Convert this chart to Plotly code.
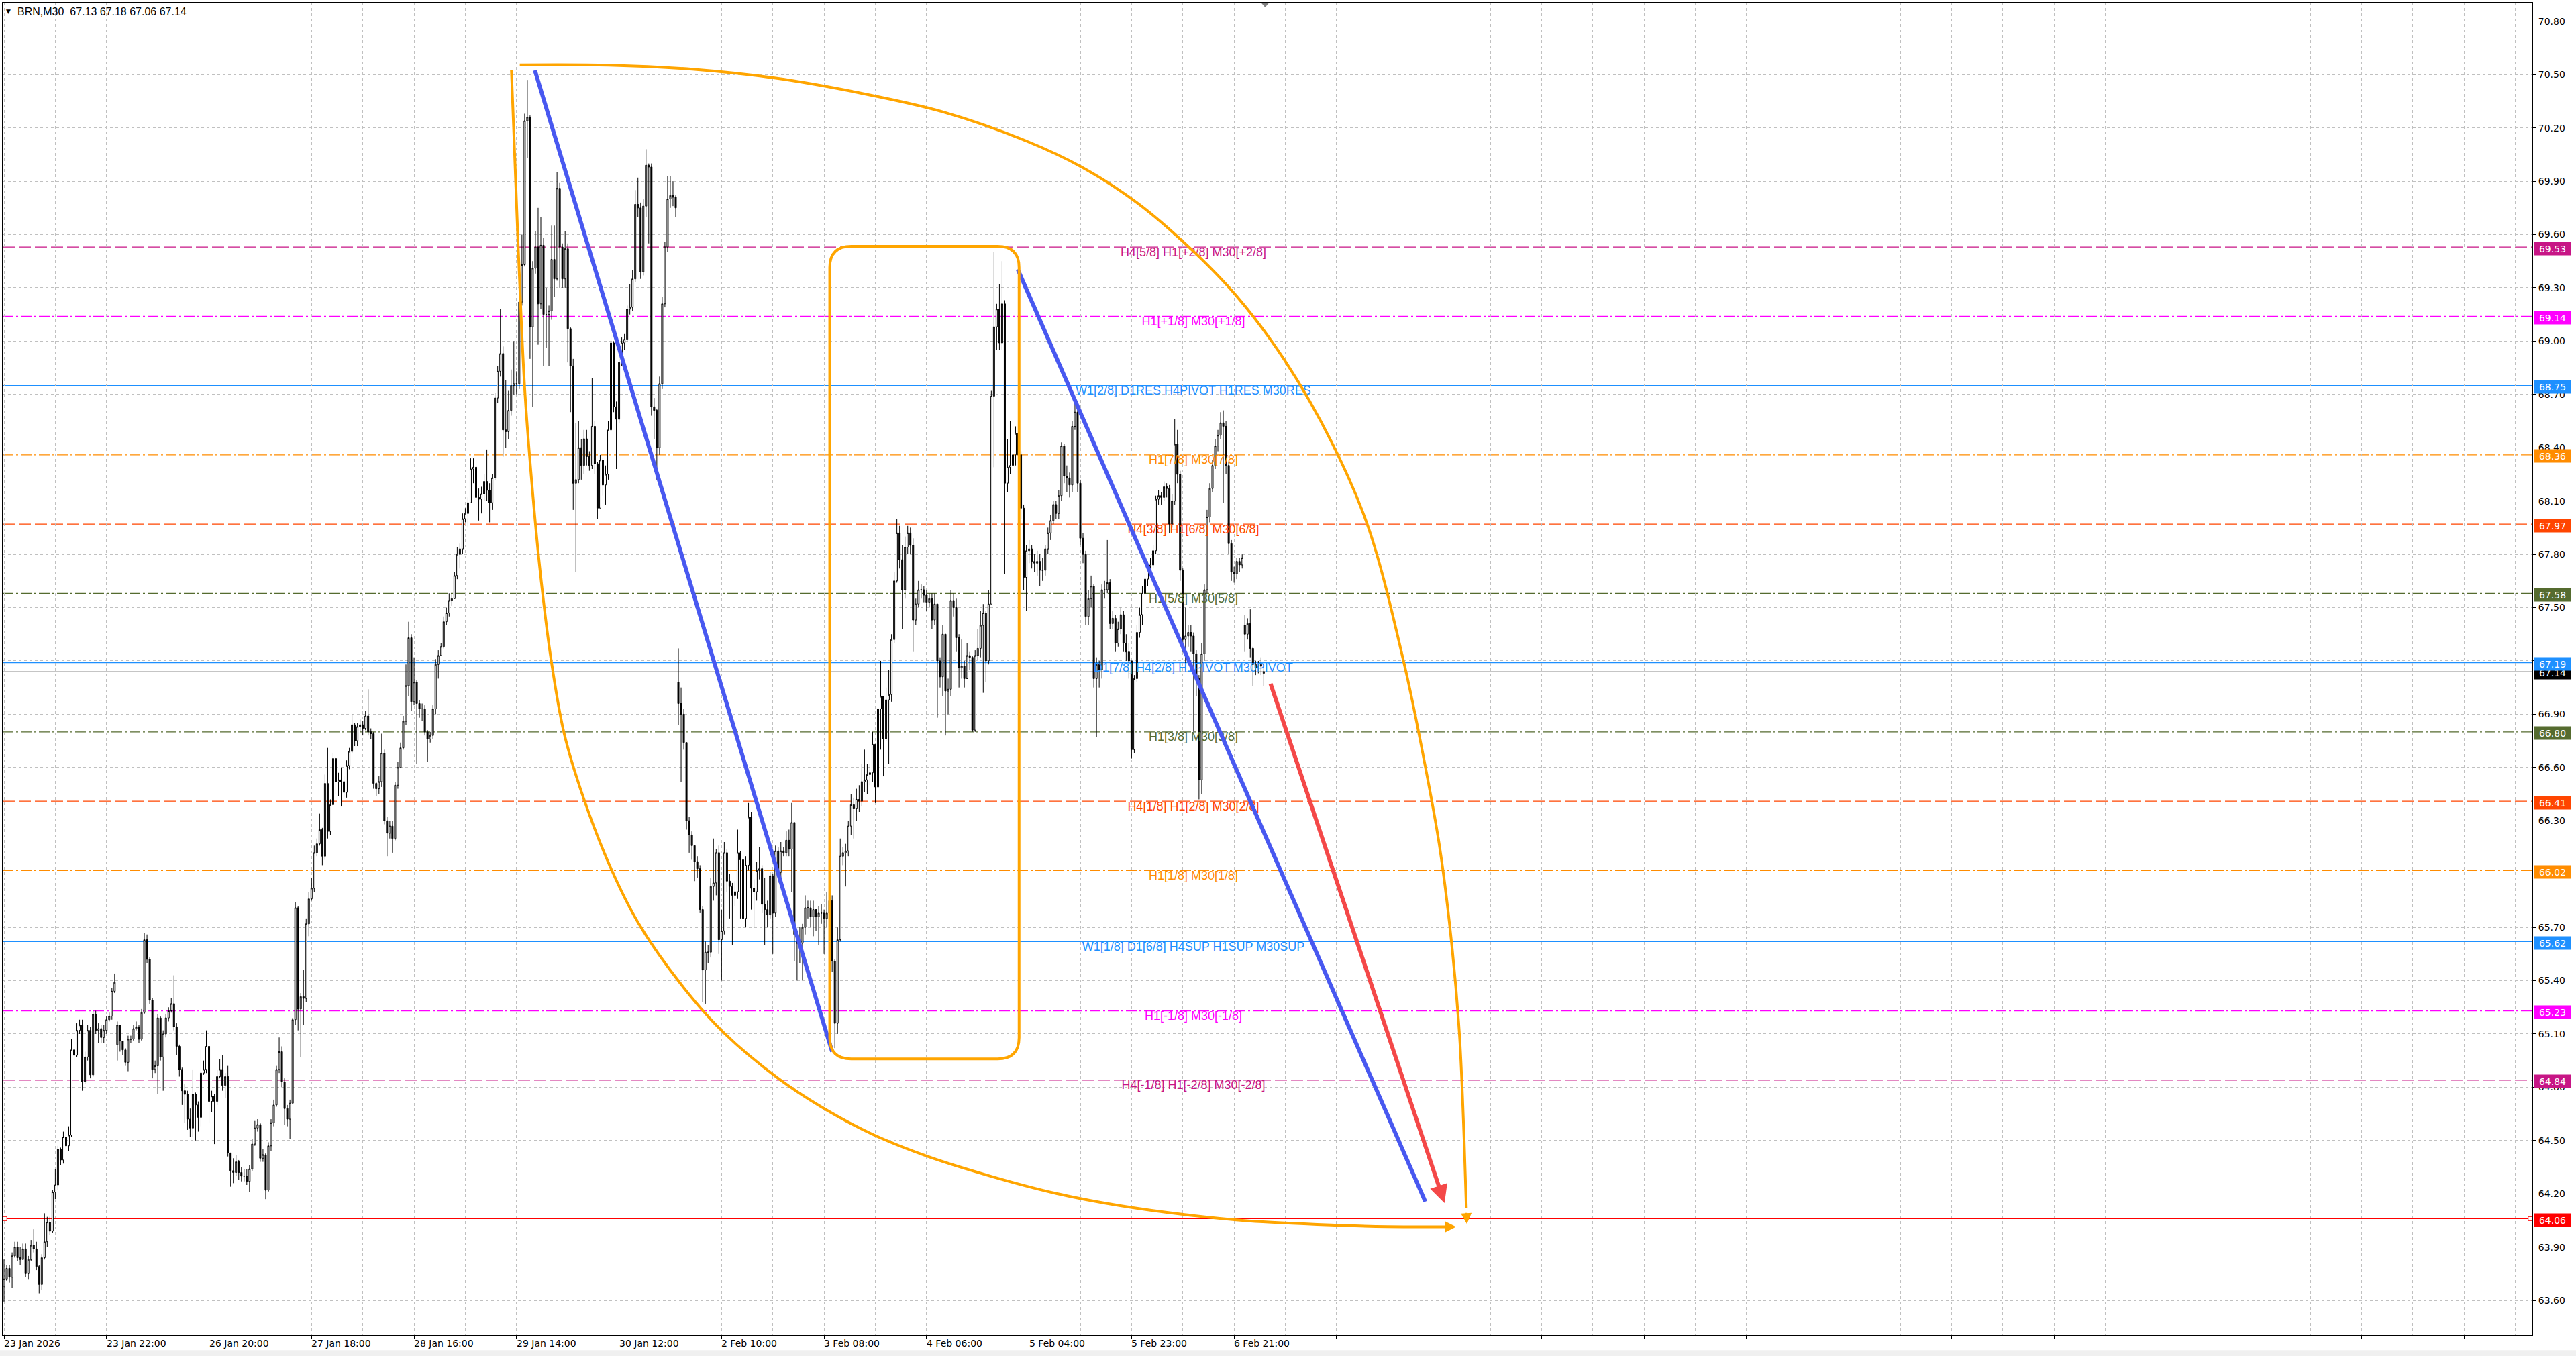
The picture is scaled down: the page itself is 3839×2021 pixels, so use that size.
import plotly.graph_objects as go

# BRN M30 Kerzen, pro Handelstag: Schluss / Hoch / Tief
close_23jan = [63.72, 63.78, 63.73, 63.85, 63.90, 63.84, 63.83, 63.89, 63.75, 63.83, 63.91, 63.89, 63.79, 63.69, 63.84, 63.93, 64.04, 63.99, 64.21, 64.25, 64.45, 64.39, 64.52, 64.47, 64.53, 65.01, 64.98, 65.12, 65.15, 64.83, 64.97, 65.12, 64.87, 65.21, 65.12, 65.13, 65.08, 65.12, 65.18, 65.20, 65.34, 65.39]
high_23jan = [63.83, 63.80, 63.80, 63.87, 63.93, 63.93, 63.90, 63.92, 63.92, 63.85, 63.94, 64.00, 63.93, 63.80, 63.86, 64.09, 64.07, 64.07, 64.22, 64.34, 64.47, 64.46, 64.55, 64.56, 64.58, 65.07, 65.03, 65.16, 65.18, 65.18, 65.00, 65.15, 65.14, 65.23, 65.23, 65.16, 65.15, 65.15, 65.20, 65.22, 65.36, 65.44]
low_23jan = [63.59, 63.71, 63.70, 63.67, 63.84, 63.82, 63.80, 63.86, 63.73, 63.72, 63.82, 63.87, 63.77, 63.64, 63.66, 63.83, 63.90, 63.97, 63.98, 64.17, 64.22, 64.36, 64.37, 64.45, 64.44, 64.52, 64.95, 64.97, 65.10, 64.78, 64.82, 64.95, 64.85, 64.86, 65.10, 65.05, 65.05, 65.05, 65.10, 65.17, 65.18, 65.33]

close_26jan = [65.15, 65.06, 65.01, 64.94, 65.07, 65.07, 65.13, 65.14, 65.07, 65.22, 65.63, 65.52, 65.29, 64.90, 64.92, 65.19, 64.97, 65.10, 65.19, 65.23, 65.27, 65.14, 65.03, 64.90, 64.78, 64.76, 64.62, 64.57, 64.76, 64.70, 64.63, 64.88, 64.90, 65.03, 64.72, 64.75, 64.72, 64.86, 64.90, 64.81, 64.86]
high_26jan = [65.17, 65.14, 65.06, 65.02, 65.09, 65.09, 65.15, 65.17, 65.15, 65.24, 65.67, 65.66, 65.53, 65.30, 64.95, 65.21, 65.20, 65.12, 65.21, 65.25, 65.30, 65.43, 65.16, 65.04, 64.91, 64.82, 64.78, 64.68, 64.90, 64.77, 64.72, 65.01, 64.95, 65.12, 65.06, 64.78, 64.76, 64.90, 64.96, 64.98, 64.88]
low_26jan = [64.95, 65.00, 64.98, 64.92, 64.89, 65.05, 65.06, 65.12, 65.05, 65.06, 65.21, 65.50, 65.27, 64.85, 64.88, 64.76, 64.95, 64.78, 65.08, 65.17, 65.22, 65.12, 64.98, 64.86, 64.70, 64.60, 64.56, 64.52, 64.52, 64.50, 64.55, 64.58, 64.87, 64.88, 64.60, 64.66, 64.48, 64.70, 64.85, 64.78, 64.74]

close_27jan = [64.43, 64.33, 64.32, 64.38, 64.32, 64.30, 64.30, 64.27, 64.34, 64.48, 64.57, 64.59, 64.40, 64.42, 64.22, 64.47, 64.60, 64.70, 64.90, 65.00, 64.83, 64.68, 64.62, 64.71, 65.18, 65.81, 65.24, 65.31, 65.30, 65.72, 65.86, 65.92, 66.12, 66.17, 66.25, 66.10, 66.51, 66.24, 66.39, 66.65, 66.52, 66.53]
high_27jan = [64.92, 64.43, 64.40, 64.42, 64.39, 64.35, 64.34, 64.34, 64.36, 64.51, 64.61, 64.62, 64.60, 64.45, 64.43, 64.49, 64.62, 64.73, 64.92, 65.08, 65.03, 64.85, 64.70, 64.73, 65.19, 65.84, 65.82, 65.33, 65.46, 65.75, 65.90, 65.98, 66.16, 66.20, 66.34, 66.26, 66.56, 66.71, 66.42, 66.68, 66.66, 66.57]
low_27jan = [64.41, 64.24, 64.26, 64.30, 64.28, 64.27, 64.27, 64.25, 64.21, 64.33, 64.47, 64.55, 64.38, 64.38, 64.17, 64.21, 64.44, 64.58, 64.69, 64.88, 64.80, 64.59, 64.58, 64.51, 64.73, 65.15, 65.12, 64.97, 65.15, 65.28, 65.65, 65.85, 65.90, 66.10, 66.16, 66.05, 66.08, 66.20, 66.22, 66.38, 66.45, 66.44]

close_28jan = [66.52, 66.46, 66.61, 66.69, 66.84, 66.75, 66.83, 66.84, 66.82, 66.89, 66.80, 66.79, 66.51, 66.48, 66.52, 66.68, 66.30, 66.23, 66.27, 66.20, 66.50, 66.60, 66.71, 66.86, 67.06, 67.33, 66.97, 67.08, 66.96, 66.93, 66.93, 66.80, 66.76, 66.78, 66.93, 67.18, 67.23, 67.28, 67.42, 67.47, 67.54, 67.55]
high_28jan = [66.60, 66.55, 66.64, 66.71, 66.90, 66.85, 66.85, 66.87, 66.86, 66.92, 67.04, 66.82, 66.80, 66.52, 66.55, 66.79, 66.70, 66.32, 66.30, 66.30, 66.52, 66.63, 66.74, 66.89, 67.18, 67.42, 67.35, 67.22, 67.09, 66.98, 66.96, 66.95, 66.81, 66.80, 66.95, 67.21, 67.26, 67.30, 67.45, 67.50, 67.58, 67.58]
low_28jan = [66.38, 66.43, 66.43, 66.59, 66.68, 66.72, 66.72, 66.80, 66.78, 66.81, 66.78, 66.76, 66.48, 66.44, 66.45, 66.49, 66.28, 66.10, 66.20, 66.12, 66.19, 66.48, 66.60, 66.70, 66.84, 67.00, 66.92, 66.95, 66.62, 66.88, 66.86, 66.78, 66.63, 66.74, 66.76, 66.90, 67.10, 67.24, 67.27, 67.40, 67.45, 67.51]

close_29jan = [67.68, 67.80, 67.83, 68.00, 68.03, 68.09, 68.28, 68.29, 68.12, 68.11, 68.14, 68.21, 68.16, 68.09, 68.23, 68.68, 68.83, 68.93, 68.50, 68.49, 68.61, 68.75, 68.76, 68.76, 69.22, 69.43, 70.24, 70.26, 69.08, 69.41, 69.53, 69.21, 69.54, 69.15, 69.15, 69.17, 69.46, 69.35, 69.86, 69.53, 69.35, 69.52]
high_29jan = [67.70, 67.84, 67.86, 68.03, 68.06, 68.12, 68.34, 68.34, 68.33, 68.17, 68.18, 68.25, 68.39, 68.20, 68.25, 68.71, 68.86, 69.18, 68.97, 68.78, 68.72, 68.84, 69.00, 68.83, 69.25, 69.60, 70.28, 70.47, 70.27, 69.45, 69.62, 69.75, 69.70, 69.58, 69.30, 69.20, 69.65, 69.65, 69.95, 69.89, 69.55, 69.62]
low_29jan = [67.55, 67.66, 67.72, 67.80, 67.98, 67.95, 68.09, 68.20, 68.02, 67.99, 68.03, 68.10, 68.10, 67.98, 68.05, 68.22, 68.65, 68.80, 68.35, 68.40, 68.45, 68.58, 68.70, 68.70, 68.73, 69.20, 69.42, 70.03, 68.90, 68.63, 69.38, 68.98, 69.18, 68.86, 68.96, 68.86, 69.12, 69.25, 69.34, 69.30, 69.30, 69.30]

close_30jan = [69.07, 68.86, 68.20, 68.22, 68.40, 68.30, 68.45, 68.35, 68.30, 68.52, 68.31, 68.06, 68.33, 68.19, 68.25, 68.50, 68.99, 68.63, 68.56, 68.88, 68.99, 69.01, 69.18, 69.19, 69.35, 69.77, 69.75, 69.39, 69.76, 69.99, 69.98, 68.63, 68.61, 68.40, 68.76, 69.21, 69.53, 69.80, 69.82, 69.81, 69.75]
high_30jan = [69.55, 69.08, 68.90, 68.54, 68.55, 68.45, 68.50, 68.50, 68.38, 68.79, 68.55, 68.32, 68.36, 68.34, 68.30, 68.55, 69.18, 69.00, 68.66, 68.91, 69.02, 69.04, 69.20, 69.32, 69.40, 69.85, 69.92, 69.78, 69.80, 70.08, 70.00, 70.00, 68.68, 68.62, 68.80, 69.25, 69.56, 69.93, 69.93, 69.90, 69.82]
low_30jan = [68.88, 68.60, 68.05, 67.70, 68.20, 68.22, 68.25, 68.30, 68.27, 68.28, 68.25, 68.00, 68.06, 68.13, 68.08, 68.22, 68.50, 68.60, 68.28, 68.54, 68.86, 68.95, 69.00, 69.15, 69.17, 69.33, 69.70, 69.35, 69.37, 69.70, 69.55, 68.58, 68.45, 68.22, 68.36, 68.73, 69.19, 69.50, 69.75, 69.76, 69.70]

close_2feb = [66.96, 66.90, 66.74, 66.30, 66.22, 66.16, 66.07, 66.03, 65.80, 65.46, 65.56, 65.56, 65.93, 65.95, 66.12, 65.63, 65.68, 66.12, 65.96, 65.93, 65.88, 65.90, 66.12, 66.08, 65.75, 66.05, 66.32, 65.92, 65.90, 66.02, 66.03, 65.83, 65.80, 65.77, 65.99, 65.78, 66.13, 66.01, 66.13, 66.12, 66.19, 66.14]
high_2feb = [67.27, 67.05, 66.93, 66.74, 66.32, 66.24, 66.16, 66.10, 66.05, 65.82, 65.62, 65.60, 65.98, 66.20, 66.14, 66.16, 65.80, 66.18, 66.14, 66.00, 65.95, 65.96, 66.25, 66.13, 66.15, 66.10, 66.40, 66.35, 65.97, 66.07, 66.15, 66.05, 65.98, 65.85, 66.01, 66.00, 66.16, 66.15, 66.18, 66.15, 66.24, 66.25]
low_2feb = [66.84, 66.52, 66.70, 66.25, 66.12, 66.08, 65.96, 65.98, 65.78, 65.28, 65.27, 65.50, 65.53, 65.85, 65.88, 65.55, 65.40, 65.66, 65.90, 65.75, 65.60, 65.82, 65.86, 65.75, 65.50, 65.70, 66.02, 65.80, 65.70, 65.85, 65.97, 65.78, 65.60, 65.70, 65.75, 65.55, 65.76, 65.95, 65.98, 66.10, 66.10, 66.10]

close_3feb = [66.29, 65.66, 65.61, 65.61, 65.70, 65.81, 65.81, 65.76, 65.80, 65.76, 65.78, 65.78, 65.75, 65.78, 65.85, 65.51, 65.16, 65.63, 66.10, 66.12, 66.13, 66.27, 66.39, 66.37, 66.42, 66.41, 66.52, 66.53, 66.56, 66.57, 66.73, 66.49, 66.93, 67.00, 66.76, 66.98, 67.01, 67.32, 67.65, 67.92, 67.77, 67.60]
high_3feb = [66.40, 66.27, 65.68, 65.70, 65.72, 65.88, 65.85, 65.85, 65.85, 65.80, 65.82, 65.83, 65.80, 65.90, 66.02, 65.88, 65.52, 65.70, 66.20, 66.15, 66.17, 66.30, 66.45, 66.43, 66.48, 66.50, 66.62, 66.70, 66.62, 66.62, 66.80, 66.73, 67.57, 67.20, 67.00, 67.05, 67.15, 67.35, 67.70, 68.00, 67.96, 67.85]
low_3feb = [65.90, 65.51, 65.40, 65.50, 65.40, 65.66, 65.75, 65.70, 65.65, 65.68, 65.60, 65.72, 65.55, 65.70, 65.75, 65.45, 65.02, 65.10, 65.62, 66.05, 65.93, 66.10, 66.22, 66.20, 66.30, 66.35, 66.38, 66.46, 66.45, 66.50, 66.52, 66.40, 66.35, 66.70, 66.55, 66.75, 66.62, 66.97, 67.30, 67.64, 67.72, 67.38]

close_4feb = [67.84, 67.92, 67.85, 67.43, 67.52, 67.60, 67.60, 67.57, 67.53, 67.55, 67.43, 67.52, 67.20, 67.11, 67.35, 67.03, 67.04, 67.54, 67.50, 67.33, 67.16, 67.17, 67.10, 67.23, 67.22, 66.81, 67.23, 67.27, 67.40, 67.47, 67.20, 67.52, 68.69, 69.08, 69.18, 68.99, 69.21, 68.20, 68.29, 68.30, 68.36, 68.48]
high_4feb = [67.90, 67.96, 67.95, 67.89, 67.55, 67.65, 67.63, 67.62, 67.60, 67.58, 67.58, 67.58, 67.52, 67.22, 67.40, 67.35, 67.10, 67.60, 67.58, 67.55, 67.35, 67.32, 67.20, 67.30, 67.25, 67.23, 67.26, 67.38, 67.48, 67.52, 67.48, 67.60, 68.72, 69.50, 69.21, 69.32, 69.45, 69.23, 68.45, 68.55, 68.45, 68.52]
low_4feb = [67.55, 67.80, 67.80, 67.25, 67.40, 67.50, 67.55, 67.53, 67.48, 67.50, 67.38, 67.40, 66.88, 67.05, 67.00, 66.78, 66.90, 67.00, 67.45, 67.25, 67.05, 67.10, 67.05, 67.10, 67.15, 66.80, 66.80, 67.20, 67.22, 67.02, 67.08, 67.18, 67.52, 68.29, 68.95, 68.95, 68.95, 67.69, 68.15, 68.25, 68.20, 68.30]

close_5feb = [68.36, 68.06, 67.67, 67.82, 67.83, 67.76, 67.75, 67.76, 67.71, 67.71, 67.83, 67.92, 67.99, 68.08, 68.03, 68.13, 68.41, 68.24, 68.23, 68.19, 68.52, 68.60, 68.20, 67.89, 67.80, 67.45, 67.55, 67.62, 67.10, 67.18, 67.15, 67.60, 67.60, 67.64, 67.41, 67.44, 67.30, 67.38, 67.46, 67.30, 67.25, 67.20]
high_5feb = [68.50, 68.38, 68.08, 67.85, 67.88, 67.85, 67.80, 67.82, 67.80, 67.78, 67.85, 67.95, 68.02, 68.10, 68.10, 68.16, 68.43, 68.42, 68.30, 68.26, 68.55, 68.65, 68.62, 68.22, 67.92, 67.82, 67.60, 67.68, 67.63, 67.22, 67.20, 67.63, 67.65, 67.88, 67.66, 67.48, 67.46, 67.42, 67.50, 67.48, 67.35, 67.30]
low_5feb = [68.30, 68.00, 67.60, 67.48, 67.75, 67.72, 67.70, 67.68, 67.62, 67.65, 67.68, 67.80, 67.88, 67.97, 68.00, 68.00, 68.10, 68.20, 68.15, 68.12, 68.15, 68.50, 68.15, 67.85, 67.75, 67.40, 67.40, 67.50, 67.05, 66.77, 67.05, 67.10, 67.55, 67.58, 67.38, 67.38, 67.25, 67.28, 67.35, 67.25, 67.20, 67.10]

close_6feb = [66.70, 67.10, 67.36, 67.46, 67.58, 67.66, 67.73, 67.74, 67.82, 68.11, 68.13, 68.12, 68.18, 68.17, 67.97, 68.10, 68.42, 68.25, 67.71, 67.32, 67.34, 67.36, 67.34, 67.24, 67.10, 66.53, 67.24, 67.60, 68.01, 68.17, 68.30, 68.41, 68.47, 68.54, 68.52, 68.30, 67.86, 67.70, 67.69, 67.76, 67.74, 67.78, 67.35, 67.41, 67.27, 67.18, 67.16, 67.17, 67.18, 67.14]
high_6feb = [67.00, 67.12, 67.40, 67.50, 67.62, 67.70, 67.76, 67.78, 67.85, 68.13, 68.16, 68.15, 68.21, 68.20, 68.19, 68.14, 68.56, 68.50, 68.27, 67.72, 67.50, 67.40, 67.40, 67.36, 67.26, 67.12, 67.30, 67.63, 68.05, 68.20, 68.33, 68.45, 68.50, 68.60, 68.61, 68.55, 68.32, 67.88, 67.73, 67.78, 67.78, 67.80, 67.46, 67.44, 67.49, 67.28, 67.20, 67.20, 67.22, 67.18]
low_6feb = [66.65, 66.68, 67.08, 67.33, 67.40, 67.55, 67.62, 67.70, 67.72, 67.80, 68.08, 68.08, 68.10, 68.12, 67.92, 67.95, 68.08, 68.20, 67.65, 67.25, 67.15, 67.28, 67.25, 66.80, 67.00, 66.42, 66.45, 67.20, 67.58, 67.98, 68.15, 68.28, 68.38, 68.45, 68.09, 68.25, 67.80, 67.65, 67.64, 67.66, 67.70, 67.72, 67.25, 67.32, 67.22, 67.06, 67.12, 67.13, 67.12, 67.06]

# Eroeffnung nach Luecken (sonst = Schluss der Vorkerze)
gap_opens = {0: 63.68, 42: 65.04, 250: 67.08, 460: 67.40, 467: 67.13}

# Zeitachse (Kerzen-Index) und Preisachse
time_label_bars = [0, 38, 76, 114, 152, 190, 228, 266, 304, 342, 380, 418, 456]
time_labels = ["23 Jan 2026", "23 Jan 22:00", "26 Jan 20:00", "27 Jan 18:00", "28 Jan 16:00", "29 Jan 14:00",
               "30 Jan 12:00", "2 Feb 10:00", "3 Feb 08:00", "4 Feb 06:00", "5 Feb 04:00", "5 Feb 23:00", "6 Feb 21:00"]
price_ticks = [63.60, 63.90, 64.20, 64.50, 64.80, 65.10, 65.40, 65.70, 66.00, 66.30, 66.60, 66.90,
               67.20, 67.50, 67.80, 68.10, 68.40, 68.70, 69.00, 69.30, 69.60, 69.90, 70.20, 70.50, 70.80]

# Murrey-Levels
level_prices = [69.53, 69.14, 68.75, 68.36, 67.97, 67.58, 67.19, 66.80, 66.41, 66.02, 65.62, 65.23, 64.84]
level_texts = ["H4[5/8] H1[+2/8] M30[+2/8]", "H1[+1/8] M30[+1/8]", "W1[2/8] D1RES H4PIVOT H1RES M30RES",
               "H1[7/8] M30[7/8]", "H4[3/8] H1[6/8] M30[6/8]", "H1[5/8] M30[5/8]", "D1[7/8] H4[2/8] H1PIVOT M30PIVOT",
               "H1[3/8] M30[3/8]", "H4[1/8] H1[2/8] M30[2/8]", "H1[1/8] M30[1/8]", "W1[1/8] D1[6/8] H4SUP H1SUP M30SUP",
               "H1[-1/8] M30[-1/8]", "H4[-1/8] H1[-2/8] M30[-2/8]"]
level_colors = ["#C71585", "#FF00FF", "#1E90FF", "#FF8C00", "#FF4500", "#556B2F", "#1E90FF",
                "#556B2F", "#FF4500", "#FF8C00", "#1E90FF", "#FF00FF", "#C71585"]
level_styles = ["dash", "dashdot", "solid", "dashdot", "dash", "dashdot", "solid",
                "dashdot", "dash", "dashdot", "solid", "dashdot", "dash"]
support_price = 64.06
bid_price = 67.14
level_text_bar = 440.9

# Zeichenobjekte (Kerzen-Index, Preis)
arc_low_bar = [188.1, 190.6, 193.0, 195.5, 198.6, 202.7, 207.7, 214.9, 225.1, 235.1, 252.2, 267.1, 286.9, 302.8,
               321.8, 342.5, 366.3, 390.1, 413.8, 437.6, 461.4, 496.0, 508.5, 536.0]
arc_low_price = [70.527, 69.534, 68.737, 68.231, 67.726, 67.218, 66.788, 66.425, 66.028, 65.726, 65.356, 65.103,
                 64.851, 64.691, 64.536, 64.410, 64.297, 64.202, 64.133, 64.083, 64.047, 64.022, 64.016, 64.014]
arc_low_tip = (538.3, 64.014)
arc_up_bar = [191.2, 224.2, 255.2, 286.1, 317.0, 348.0, 378.9, 399.5, 420.1, 439.2, 456.9, 474.7, 492.5, 505.8,
              519.1, 528.0, 532.4, 536.9, 539.6, 541.3, 542.1]
arc_up_price = [70.555, 70.553, 70.530, 70.480, 70.398, 70.291, 70.127, 69.980, 69.778, 69.530, 69.254, 68.893,
                68.421, 67.950, 67.181, 66.517, 66.133, 65.574, 65.085, 64.498, 64.12]
arc_up_tip = (542.3, 64.03)
trend1_bar = [196.8, 307.0]
trend1_price = [70.524, 65.00]
trend2_bar = [375.8, 526.9]
trend2_price = [69.404, 64.156]
red_arrow_bar = [469.4, 534.0]
red_arrow_price = [67.077, 64.148]
box_bar = [306.1, 376.3]
box_price = [64.959, 69.534]
box_corner = (8.0, 0.12)

ORANGE = "#FFA500"
BLUE = "#4858F0"
RED = "#F44848"
GRID = "#C0C0C0"
FONT = "DejaVu Sans"
LABEL_FONT = "Liberation Sans"

closes = (close_23jan + close_26jan + close_27jan + close_28jan + close_29jan + close_30jan
          + close_2feb + close_3feb + close_4feb + close_5feb + close_6feb)
highs = (high_23jan + high_26jan + high_27jan + high_28jan + high_29jan + high_30jan
         + high_2feb + high_3feb + high_4feb + high_5feb + high_6feb)
lows = (low_23jan + low_26jan + low_27jan + low_28jan + low_29jan + low_30jan
        + low_2feb + low_3feb + low_4feb + low_5feb + low_6feb)
bars = list(range(len(closes)))
opens = [gap_opens.get(i, closes[i - 1] if i > 0 else closes[0]) for i in bars]
highs = [max(h, o, c) for h, o, c in zip(highs, opens, closes)]
lows = [min(l, o, c) for l, o, c in zip(lows, opens, closes)]

fig = go.Figure()

# Level-Texte (unter den Kerzen)
fig.add_trace(go.Scatter(
    x=[level_text_bar] * len(level_prices), y=level_prices, text=level_texts, mode="text",
    textposition="bottom center", textfont=dict(family=LABEL_FONT, size=18, color=level_colors),
    hoverinfo="skip", showlegend=False))

fig.add_trace(go.Candlestick(
    x=bars, open=opens, high=highs, low=lows, close=closes,
    increasing=dict(line=dict(color="black", width=1), fillcolor="white"),
    decreasing=dict(line=dict(color="black", width=1), fillcolor="black"),
    whiskerwidth=0, showlegend=False, hoverinfo="skip"))

# Boegen, Trendlinien
fig.add_trace(go.Scatter(x=arc_low_bar, y=arc_low_price, mode="lines",
                         line=dict(color=ORANGE, width=4, shape="spline", smoothing=1.0),
                         hoverinfo="skip", showlegend=False))
fig.add_trace(go.Scatter(x=arc_up_bar, y=arc_up_price, mode="lines",
                         line=dict(color=ORANGE, width=4, shape="spline", smoothing=1.0),
                         hoverinfo="skip", showlegend=False))
fig.add_trace(go.Scatter(x=trend1_bar, y=trend1_price, mode="lines", line=dict(color=BLUE, width=6),
                         hoverinfo="skip", showlegend=False))
fig.add_trace(go.Scatter(x=trend2_bar, y=trend2_price, mode="lines", line=dict(color=BLUE, width=6),
                         hoverinfo="skip", showlegend=False))
# Auswahlpunkte der roten Linie
fig.add_trace(go.Scatter(x=[0.3, 936.5], y=[support_price, support_price], mode="markers",
                         marker=dict(symbol="square", size=6, color="white", line=dict(color="red", width=1)),
                         cliponaxis=False, hoverinfo="skip", showlegend=False))

dash_map = {"dash": "18px,6px", "dashdot": "16px,4px,3px,4px", "solid": "solid"}
shapes = []
for p, c, s in zip(level_prices, level_colors, level_styles):
    shapes.append(dict(type="line", xref="paper", x0=0, x1=1, yref="y", y0=p, y1=p, layer="between",
                       line=dict(color=c, width=1.2, dash=dash_map[s])))
shapes.append(dict(type="line", xref="paper", x0=0, x1=1, yref="y", y0=support_price, y1=support_price,
                   layer="between", line=dict(color="#FF0000", width=1.2)))
shapes.append(dict(type="line", xref="paper", x0=0, x1=1, yref="y", y0=bid_price, y1=bid_price,
                   layer="between", line=dict(color="#A9A9A9", width=1)))

# abgerundetes Rechteck
x0, x1 = box_bar
y0, y1 = box_price
rx, ry = box_corner
box_path = (f"M {x0 + rx},{y1} L {x1 - rx},{y1} Q {x1},{y1} {x1},{y1 - ry} L {x1},{y0 + ry} "
            f"Q {x1},{y0} {x1 - rx},{y0} L {x0 + rx},{y0} Q {x0},{y0} {x0},{y0 + ry} "
            f"L {x0},{y1 - ry} Q {x0},{y1} {x0 + rx},{y1} Z")
shapes.append(dict(type="path", path=box_path, xref="x", yref="y", layer="above",
                   line=dict(color=ORANGE, width=4)))
# Chart-Shift Marker oben
shapes.append(dict(type="path", xref="x", yref="paper", path="M 466.0,1 L 469.0,1 L 467.5,0.9965 Z",
                   fillcolor="#808080", line=dict(width=0), layer="above"))
# grauer Rand unten
shapes.append(dict(type="rect", xref="paper", yref="paper", x0=-0.002, x1=1.02, y0=-0.0157, y1=-0.0112,
                   fillcolor="#F0F0F0", line=dict(width=0), layer="above"))

annotations = []
# Zeitlabels links ausgerichtet
for b, t in zip(time_label_bars, time_labels):
    annotations.append(dict(x=b, xref="x", y=0, yref="paper", text=t, showarrow=False, xanchor="left",
                            yanchor="top", yshift=-2, xshift=-2, font=dict(family=FONT, size=14, color="black")))
# Preisboxen rechts
for p, c in zip([bid_price], ["#000000"]):
    annotations.append(dict(x=1, xref="paper", y=p, yref="y", text=f"{p:.2f}", showarrow=False, xanchor="left",
                            yanchor="middle", xshift=2, yshift=-2, bgcolor=c, width=52, height=17, borderpad=1,
                            font=dict(family=FONT, size=14, color="white")))
for p, c in zip(level_prices + [support_price], level_colors + ["#FF0000"]):
    annotations.append(dict(x=1, xref="paper", y=p, yref="y", text=f"{p:.2f}", showarrow=False, xanchor="left",
                            yanchor="middle", xshift=2, yshift=-2, bgcolor=c, width=52, height=17, borderpad=1,
                            font=dict(family=FONT, size=14, color="white")))
# Titel
annotations.append(dict(x=0, xref="paper", y=1, yref="paper", text="\u25BC", showarrow=False, xanchor="left",
                        yanchor="top", xshift=3, yshift=-6, font=dict(family=FONT, size=9, color="black")))
annotations.append(dict(x=0, xref="paper", y=1, yref="paper",
                        text="BRN,M30\u00a0\u00a067.13 67.18 67.06 67.14", showarrow=False, xanchor="left",
                        yanchor="top", xshift=20, yshift=-3, font=dict(family=LABEL_FONT, size=16, color="black")))
# Pfeile
annotations.append(dict(x=red_arrow_bar[1], y=red_arrow_price[1], ax=red_arrow_bar[0], ay=red_arrow_price[0],
                        xref="x", yref="y", axref="x", ayref="y", text="", showarrow=True, arrowhead=2,
                        arrowsize=0.9, arrowwidth=6, arrowcolor=RED, standoff=0))
annotations.append(dict(x=arc_low_tip[0], y=arc_low_tip[1], ax=-18, ay=0, xref="x", yref="y", text="",
                        showarrow=True, arrowhead=2, arrowsize=0.8, arrowwidth=4, arrowcolor=ORANGE, standoff=0))
annotations.append(dict(x=arc_up_tip[0], y=arc_up_tip[1], ax=-1, ay=-18, xref="x", yref="y", text="",
                        showarrow=True, arrowhead=2, arrowsize=0.8, arrowwidth=4, arrowcolor=ORANGE, standoff=0))

fig.update_layout(
    width=3839, height=2021, autosize=False,
    margin=dict(l=4, r=65, t=4, b=31, pad=0),
    paper_bgcolor="white", plot_bgcolor="white",
    font=dict(family=FONT, size=14, color="black"),
    showlegend=False, hovermode=False,
    shapes=shapes, annotations=annotations,
)
fig.update_xaxes(
    range=[-0.5, 937.3], tickmode="linear", tick0=0, dtick=38, showticklabels=False,
    ticks="outside", ticklen=4, tickcolor="black",
    showgrid=True, gridcolor=GRID, gridwidth=1, griddash="4px,4px",
    minor=dict(tick0=0, dtick=19, showgrid=True, gridcolor=GRID, griddash="4px,4px", ticks=""),
    showline=True, linecolor="black", linewidth=1, mirror=True, zeroline=False,
    rangeslider=dict(visible=False), fixedrange=True,
)
fig.update_yaxes(
    range=[63.404, 70.905], side="right", tickmode="array", tickvals=price_ticks,
    ticktext=[f"{v:.2f}" for v in price_ticks], ticks="outside", ticklen=5, tickcolor="black",
    tickfont=dict(family=FONT, size=14, color="black"),
    showgrid=True, gridcolor=GRID, gridwidth=1, griddash="4px,4px",
    showline=True, linecolor="black", linewidth=1, mirror=True, zeroline=False, fixedrange=True,
)

fig.write_html("out.html", config={"displayModeBar": False},
               post_script="document.body.style.margin='0';document.body.style.overflow='hidden';")
